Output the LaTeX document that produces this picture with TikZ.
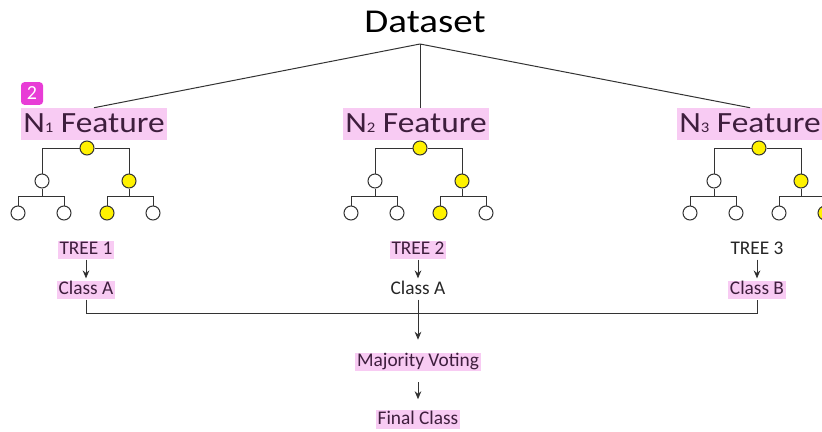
\documentclass[tikz,border=0pt]{standalone}
\usepackage{fontspec}
\setmainfont{Carlito}
\usetikzlibrary{arrows.meta,calc}
\definecolor{hlpink}{HTML}{F8CBF3}
\definecolor{hlink}{HTML}{3E1E3D}
\definecolor{badgepink}{HTML}{E83CD6}
\definecolor{linegray}{HTML}{333333}
\tikzstyle{lbl}=[font=\fontsize{14.5}{14.5}\selectfont, text=black!85, inner xsep=1.5pt, inner ysep=0.5pt, text height=10pt, text depth=3pt]
\tikzstyle{hilite}=[fill=hlpink, text=hlink]
\tikzstyle{feat}=[font=\fontsize{22}{22}\selectfont, inner xsep=1.5pt, inner ysep=1pt, text height=17pt, text depth=5pt, hilite]
\tikzstyle{knot}=[circle, draw=linegray, line width=0.75pt, fill=white, minimum size=10.5pt, inner sep=0pt]
\tikzstyle{hot}=[knot, fill=yellow]
\tikzstyle{wire}=[draw=linegray, line width=0.75pt]
\tikzstyle{arrow}=[wire, -{Stealth[length=6pt,width=5pt]}]
\newcommand{\featname}[1]{\scalebox{1.14}[1]{N{\fontsize{11}{11}\selectfont #1} Feature}}

\begin{document}
\begin{tikzpicture}[x=0.75pt,y=-0.75pt]
    \useasboundingbox (0,0) rectangle (822,432);
    % top
    \node (ds) at (425,22) [font=\fontsize{25}{25}\selectfont, text=black] {\scalebox{1.17}[1]{Dataset}};
    \coordinate (apex) at (420,44);
    \node (n1) at (94,124) [feat] {\featname{1}};
    \node (n2) at (416,124) [feat] {\featname{2}};
    \node (n3) at (750,124) [feat] {\featname{3}};
    \node (badge) at (32,93.5) [fill=badgepink, rounded corners=2.5pt, text=white, minimum width=16.5pt, minimum height=17pt, inner sep=0pt, font=\fontsize{15}{15}\selectfont] {2};
    \path[wire]
        (apex) edge (n1.north)
        (apex) edge (apex |- n2.north)
        (apex) edge (n3.north);
    % trees
    \foreach \t/\dx/\cc/\cd in {1/0/yellow/white,2/333/yellow/white,3/672/white/yellow}{
        \node (r\t) at (87+\dx,148) [hot] {};
        \node (a\t) at (42+\dx,181) [knot] {};
        \node (b\t) at (129+\dx,181) [hot] {};
        \node (al\t) at (18+\dx,213) [knot] {};
        \node (ar\t) at (64+\dx,213) [knot] {};
        \node (bl\t) at (107+\dx,213) [knot,fill=\cc] {};
        \node (br\t) at (153+\dx,213) [knot,fill=\cd] {};
        \draw[wire] (r\t) -| (a\t) (r\t) -| (b\t)
            (a\t) -- ++(0,15) coordinate (ja\t) -| (al\t) (ja\t) -| (ar\t)
            (b\t) -- ++(0,15) coordinate (jb\t) -| (bl\t) (jb\t) -| (br\t);
    }
    % votes
    \node (t1) at (86,250) [lbl,hilite] {TREE 1};
    \node (t2) at (418,250) [lbl,hilite] {TREE 2};
    \node (t3) at (757,250) [lbl] {TREE 3};
    \node (c1) at (86,290) [lbl,hilite] {Class A};
    \node (c2) at (418,290) [lbl] {Class A};
    \node (c3) at (757,290) [lbl,hilite] {Class B};
    \node (mv) at (418,362) [lbl,hilite] {Majority Voting};
    \node (fc) at (418,419.5) [lbl,hilite] {Final Class};
    \path[arrow,shorten >=1.5pt]
        (t1) edge (c1)
        (t2) edge (c2)
        (t3) edge (c3);
    \draw[wire] (c1) -- ++(0,23) -| (c3);
    \draw[arrow,shorten >=9.5pt] (c2) -- (mv);
    \draw[arrow,shorten <=8pt,shorten >=8pt] (mv) -- (fc);
\end{tikzpicture}
\end{document}
